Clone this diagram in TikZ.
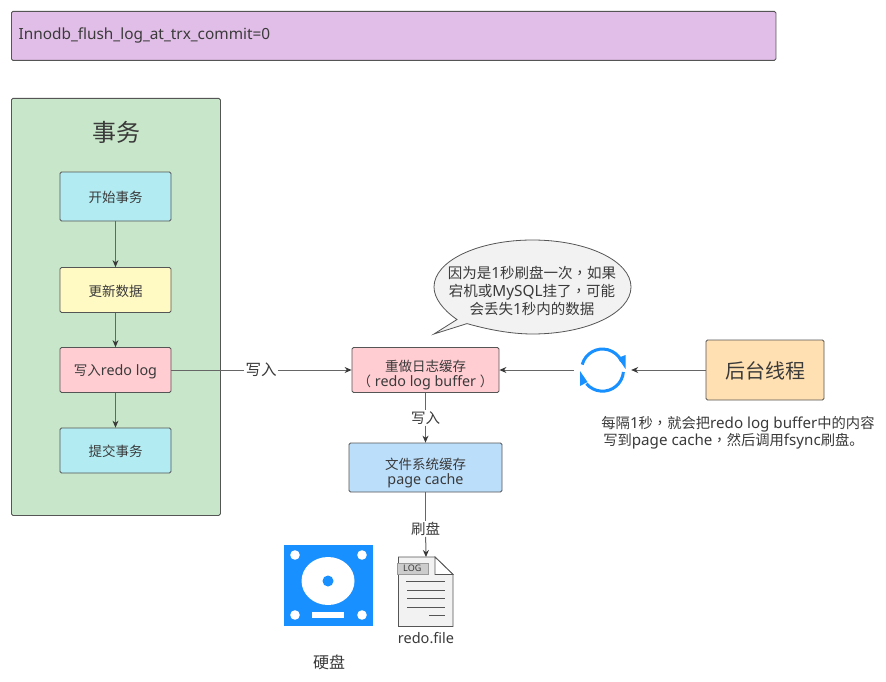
\documentclass[tikz,border=0pt]{standalone}
\usepackage{fontspec}
\setmainfont{Noto Sans CJK SC}
\newfontfamily\latf[Scale=1.06]{Noto Sans}
\newfontfamily\tcf{Noto Sans CJK TC}
\newcommand{\la}[1]{{\latf #1}}
\newcommand{\cm}{{\tcf ，}}
\newcommand{\tst}{\rule[-2pt]{0pt}{16pt}}
\newcommand{\tml}{\rule{0pt}{22pt}}
\usetikzlibrary{arrows.meta,calc}
\definecolor{ink}{HTML}{3A3A3A}
\definecolor{edge}{HTML}{555555}
\definecolor{wire}{HTML}{666666}
\definecolor{tip}{HTML}{383838}
\definecolor{iconblue}{HTML}{1890FF}
\definecolor{HeadColor}{HTML}{E1BEE7}
\definecolor{PanelColor}{HTML}{C8E6C9}
\definecolor{CyanColor}{HTML}{B2EBF2}
\definecolor{YellowColor}{HTML}{FFF9C4}
\definecolor{PinkColor}{HTML}{FFCDD2}
\definecolor{BlueColor}{HTML}{BBDEFB}
\definecolor{OrangeColor}{HTML}{FFE0B2}
\tikzset{
 px/.style={x=1pt,y=-1pt},
 box/.style={draw=edge,line width=0.8pt,rounded corners=1.5pt,align=center,text=ink,font=\fontsize{13.5}{18}\selectfont,inner sep=0pt},
 lbl/.style={text=ink,align=center,inner sep=1pt,font=\fontsize{14.5}{18}\selectfont},
 conn/.style={draw=wire,line width=1pt,-{Stealth[length=7pt,width=6pt,color=tip]}},
 line/.style={draw=wire,line width=1pt},
 docline/.style={draw=edge,line width=0.8pt},
 loopstroke/.style={iconblue,line width=3pt},
}
\begin{document}
\begin{tikzpicture}[px]
\useasboundingbox (0,0) rectangle (886,682);
\fill[white] (0,0) rectangle (886,682);
% banner
\node[box,fill=HeadColor,minimum width=764.5pt,minimum height=49pt,anchor=north west,text width=757pt,align=left,font=\fontsize{14.5}{18}\selectfont] (banner) at (11,11) {\hspace*{3.5pt}\la{Innodb\_flush\_log\_at\_trx\_commit=0}};
% transaction panel
\node[box,fill=PanelColor,minimum width=209pt,minimum height=417pt,anchor=north west] (panel) at (11,98) {};
\node[lbl,font=\fontsize{24}{28}\selectfont] (title) at (116,132) {事务};
\node[box,fill=CyanColor,minimum width=111pt,minimum height=49pt] (begin) at (115.5,196.5) {\tst 开始事务};
\node[box,fill=YellowColor,minimum width=111pt,minimum height=45pt] (update) at (115.5,290) {\tst 更新数据};
\node[box,fill=PinkColor,minimum width=111pt,minimum height=45pt] (write) at (115.5,370) {\tst 写入\la{redo log}};
\node[box,fill=CyanColor,minimum width=111pt,minimum height=45pt] (commit) at (115.5,450.5) {\tst 提交事务};
% middle
\node[box,fill=PinkColor,minimum width=147pt,minimum height=45pt] (buffer) at (425.5,370) {\tml 重做日志缓存\\[-2.6pt]（\la{ redo log buffer }）};
\node[box,fill=BlueColor,minimum width=153pt,minimum height=49pt] (cache) at (425.5,467.5) {\tml 文件系统缓存\\[-3pt]\la{page cache}};
\node[box,fill=OrangeColor,minimum width=118pt,minimum height=60pt,font=\fontsize{20}{24}\selectfont] (thread) at (765,370) {\rule[-2pt]{0pt}{21pt}后台线程};
% loop icon
\node[minimum size=57pt,inner sep=0pt] (loop) at (602.5,370) {};
\draw[loopstroke] ($(loop.center)+(-20.3,-5.4)$) arc[start angle=165,end angle=25,radius=21pt];
\draw[loopstroke] ($(loop.center)+(20.9,2)$) arc[start angle=-5,end angle=-140,radius=21pt];
\fill[iconblue] ($(loop.center)+(23,-15)$) -- ++(0,14) -- ++(-7.5,-11) -- cycle;
\fill[iconblue] ($(loop.center)+(-22.5,1)$) -- ++(0,15) -- ++(7.5,-4) -- cycle;
% callout
\path[draw=edge,line width=0.8pt,fill=black!5] (467,323.6)
  .. controls (493,331) and (515,334) .. (532.5,334)
  .. controls (587,334) and (631,313) .. (631,287)
  .. controls (631,261) and (587,240) .. (532.5,240)
  .. controls (478,240) and (434,261) .. (434,287)
  .. controls (434,298) and (443,310) .. (457,319.5)
  -- (434,334) -- cycle;
\node[text=ink,align=center,inner sep=0pt,font=\fontsize{14.5}{19.5}\selectfont] (bubble) at (532,291) {因为是\la{1}秒刷盘一次\cm 如果\\[-1.6pt]宕机或\la{MySQL}挂了\cm 可能\\[-1.6pt]会丢失\la{1}秒内的数据};
% connectors
\draw[conn] (begin) -- (update);
\draw[conn] (update) -- (write);
\draw[conn] (write) -- (commit);
\node[lbl,fill=white,font=\fontsize{15.5}{18}\selectfont] (lblw) at (261,370) {写入};
\draw[line] (write) -- (lblw);
\draw[conn] (lblw) -- (buffer);
\node[lbl,fill=white] (lblw2) at (425.5,418) {写入};
\draw[line] (buffer) -- (lblw2);
\draw[conn] (lblw2) -- (cache);
\draw[conn] (thread) -- (loop);
\draw[conn] (loop) -- (buffer);
\node[lbl,fill=white] (flush) at (425.5,529) {刷盘};
\draw[line] (cache) -- (flush);
% disk icon
\node[fill=iconblue,minimum width=89pt,minimum height=81pt,inner sep=0pt,anchor=north west] (disk) at (284,545) {};
\fill[white] (295,555) circle (4.8pt) (362,555) circle (4.8pt) (295,615) circle (4.8pt) (362,615) circle (4.8pt);
\fill[white] (328,581) ellipse (26.5pt and 24pt);
\fill[iconblue] (328,581) circle (5.5pt);
\fill[white] (312,612) rectangle (344,618);
\node[lbl,font=\fontsize{16}{20}\selectfont] (disklbl) at (329,662) {硬盘};
% file icon
\coordinate (filetop) at (426,557);
\draw[line width=0.9pt,draw=edge,fill=black!5] (398.5,557) -- (435,557) -- (453,574.5) -- (453,626.5) -- (398.5,626.5) -- cycle;
\draw[line width=0.8pt,draw=edge,fill=white] (435,557) -- (435,574.5) -- (453,574.5) -- cycle;
\node[draw=black!40,fill=black!20,line width=0.6pt,minimum width=31pt,minimum height=11pt,inner sep=0pt,text=ink,font=\fontsize{8.5}{9}\selectfont,anchor=north west] (tag) at (396.5,562.5) {\la{LOG}};
\draw[docline] (406,581.5) -- (445,581.5) (407,590) -- (445,590) (407,598) -- (445,598) (407,607) -- (445,607) (429,615.5) -- (445,615.5);
\draw[conn] (flush) -- (filetop);
\node[lbl,font=\fontsize{13.7}{18}\selectfont] (filelbl) at (426,638) {\la{redo.file}};
% note
\node[lbl,font=\fontsize{14.3}{18.5}\selectfont] (note) at (738,433) {每隔\la{1}秒\cm 就会把\la{redo log buffer}中的内容\\[-1.8pt]写到\la{page cache}\cm 然后调用\la{fsync}刷盘。\hspace*{9pt}};
\end{tikzpicture}
\end{document}
